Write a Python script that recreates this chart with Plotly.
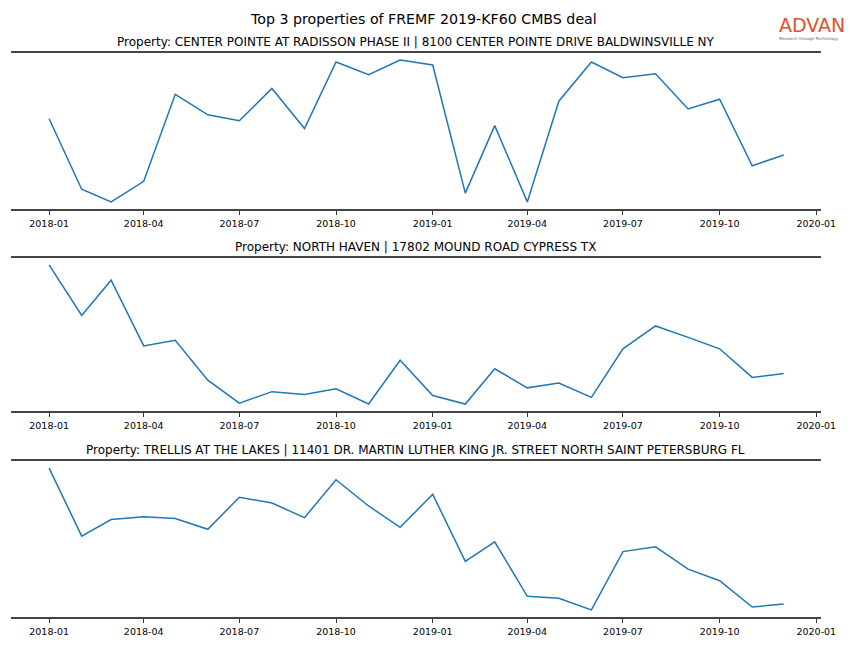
import plotly.graph_objects as go

months = ["2018-01-01", "2018-02-01", "2018-03-01", "2018-04-01", "2018-05-01", "2018-06-01",
          "2018-07-01", "2018-08-01", "2018-09-01", "2018-10-01", "2018-11-01", "2018-12-01",
          "2019-01-01", "2019-02-01", "2019-03-01", "2019-04-01", "2019-05-01", "2019-06-01",
          "2019-07-01", "2019-08-01", "2019-09-01", "2019-10-01", "2019-11-01", "2019-12-01"]

center_pointe = [90, 18, 5, 26, 115, 94, 88, 121, 80, 148, 135, 150,
                 145, 14, 83, 5, 108, 148, 132, 136, 100, 110, 42, 53]
north_haven = [149, 96, 133, 64, 70, 28, 4, 16, 13, 19, 3, 49,
               12, 3, 40, 20, 25, 10, 61, 85, 73, 61, 31, 35]
trellis = [150, 80, 97, 100, 98, 87, 120, 114, 99, 138, 111, 89,
           123, 54, 74, 18, 16, 4, 64, 69, 46, 34, 7, 10]

titles = ["Property: CENTER POINTE AT RADISSON PHASE II | 8100 CENTER POINTE DRIVE BALDWINSVILLE NY",
          "Property: NORTH HAVEN | 17802 MOUND ROAD CYPRESS TX",
          "Property: TRELLIS AT THE LAKES | 11401 DR. MARTIN LUTHER KING JR. STREET NORTH SAINT PETERSBURG FL"]
main_title = "Top 3 properties of FREMF 2019-KF60 CMBS deal"
tick_vals = ["2018-01-01", "2018-04-01", "2018-07-01", "2018-10-01", "2019-01-01",
             "2019-04-01", "2019-07-01", "2019-10-01", "2020-01-01"]
tick_text = ["2018-01", "2018-04", "2018-07", "2018-10", "2019-01",
             "2019-04", "2019-07", "2019-10", "2020-01"]

series = [center_pointe, north_haven, trellis]
W, H = 864, 648
x_dom = [11.5 / W, 836 / W]
y_px = [(53, 209), (258, 411), (461, 617)]
y_doms = [[(H - b) / H, (H - t) / H] for t, b in y_px]

fig = go.Figure()
layout = dict(
    width=W, height=H, autosize=False, margin=dict(l=0, r=0, t=0, b=0, pad=0),
    paper_bgcolor="white", plot_bgcolor="white", showlegend=False,
    font=dict(family="DejaVu Sans", color="black"),
)
annotations = []
for i, (vals, title) in enumerate(zip(series, titles)):
    n = "" if i == 0 else str(i + 1)
    fig.add_trace(go.Scatter(x=months, y=vals, mode="lines",
                             line=dict(color="#1f77b4", width=1.5),
                             xaxis="x" + n, yaxis="y" + n))
    lo, hi = min(vals), max(vals)
    pad = (hi - lo) * 0.05
    layout["xaxis" + n] = dict(
        domain=x_dom, anchor="y" + n, type="date",
        range=["2017-11-26", "2020-01-05"],
        tickmode="array", tickvals=tick_vals, ticktext=tick_text,
        ticks="outside", ticklen=4, tickwidth=1, tickcolor="#333",
        tickfont=dict(size=9.5, family="DejaVu Sans", color="black"),
        ticklabeloverflow="allow",
        showline=True, linecolor="#444", linewidth=2.2, mirror=True,
        showgrid=False, zeroline=False,
    )
    layout["yaxis" + n] = dict(
        domain=y_doms[i], anchor="x" + n, range=[lo - pad, hi + pad],
        showticklabels=False, ticks="", showgrid=False, zeroline=False, showline=False,
    )
    annotations.append(dict(
        text=title, xref="paper", yref="paper", x=(x_dom[0] + x_dom[1]) / 2,
        y=(H - (y_px[i][0] - 11)) / H, xanchor="center", yanchor="middle",
        showarrow=False, font=dict(size=12, family="DejaVu Sans", color="black"),
    ))

annotations.append(dict(text=main_title, xref="paper", yref="paper", x=431.5 / W, y=(H - 19) / H,
                        xanchor="center", yanchor="middle", showarrow=False,
                        font=dict(size=14.2, family="DejaVu Sans", color="black")))
annotations.append(dict(text="ADVAN", xref="paper", yref="paper", x=827 / W, y=(H - 25) / H,
                        xanchor="center", yanchor="middle", showarrow=False,
                        font=dict(size=19, family="DejaVu Sans", color="#e0502a")))
annotations.append(dict(text="Research through Technology", xref="paper", yref="paper",
                        x=824 / W, y=(H - 38.5) / H, xanchor="center", yanchor="middle",
                        showarrow=False, font=dict(size=4, family="DejaVu Sans", color="#666")))
layout["annotations"] = annotations
fig.update_layout(**layout)
fig.write_html(
    "out.html",
    config={"responsive": False, "displayModeBar": False},
    post_script=(
        "document.documentElement.style.overflow='hidden';"
        "document.body.style.margin='0';document.body.style.padding='0';"
        "document.body.style.overflow='hidden';"
    ),
)
